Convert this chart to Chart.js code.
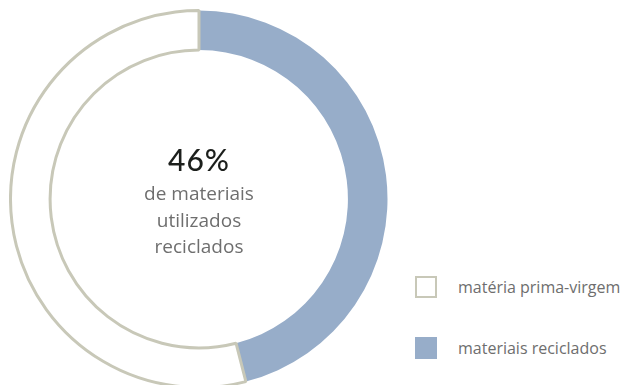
<!DOCTYPE html>
<html lang="pt">
<head>
<meta charset="utf-8">
<script src="https://cdn.jsdelivr.net/npm/chart.js@4"></script>
<style>
  html, body { margin: 0; padding: 0; background: #fff; overflow: hidden; }
  body { width: 642px; height: 385px; position: relative; font-family: "Open Sans", sans-serif; }
  #ringBox { position: absolute; left: 9px; top: 9px; width: 380px; height: 380px; }
  #center { position: absolute; left: 99px; top: 138px; width: 200px; text-align: center; color: #6e6e6e; }
  #center .pct { font-family: Lato, sans-serif; font-size: 30px; font-weight: 500; color: #1c1f1c; line-height: 42px; letter-spacing: 1px; }
  #center .sub { font-size: 19px; line-height: 26.5px; }
  #legend { position: absolute; left: 415px; top: 275px; }
  .item { display: flex; align-items: center; height: 23px; margin-bottom: 38px; color: #6e6e6e; font-size: 16px; }
  .swatch { width: 22px; height: 22px; box-sizing: border-box; margin-right: 21px; }
</style>
</head>
<body>
<div id="ringBox"><canvas id="ring"></canvas></div>
<div id="center"></div>
<div id="legend"></div>
<script>
const labels = ["materiais reciclados", "matéria prima-virgem"];
const shares = [46, 54];
const fills = ["#97adc9", "#ffffff"];
const borders = ["#97adc9", "#c8c8b8"];
const centerLines = ["de materiais", "utilizados", "reciclados"];

// ring
new Chart(document.getElementById("ring").getContext("2d"), {
  type: "doughnut",
  data: {
    labels: labels,
    datasets: [{
      data: shares,
      backgroundColor: fills,
      borderColor: borders,
      borderWidth: [0, 3]
    }]
  },
  options: {
    responsive: true,
    maintainAspectRatio: false,
    animation: false,
    cutout: "79%",
    plugins: { legend: { display: false }, tooltip: { enabled: false } }
  }
});

// centre caption
const center = document.getElementById("center");
center.innerHTML = '<div class="pct">' + shares[0] + '%</div>' +
  '<div class="sub">' + centerLines.join("<br>") + '</div>';

// legend, virgin material first
const legend = document.getElementById("legend");
[1, 0].forEach(i => {
  const item = document.createElement("div");
  item.className = "item";
  const sw = document.createElement("span");
  sw.className = "swatch";
  sw.style.background = fills[i];
  sw.style.border = i === 1 ? "2px solid " + borders[i] : "none";
  item.appendChild(sw);
  item.appendChild(document.createTextNode(labels[i]));
  legend.appendChild(item);
});
</script>
</body>
</html>
